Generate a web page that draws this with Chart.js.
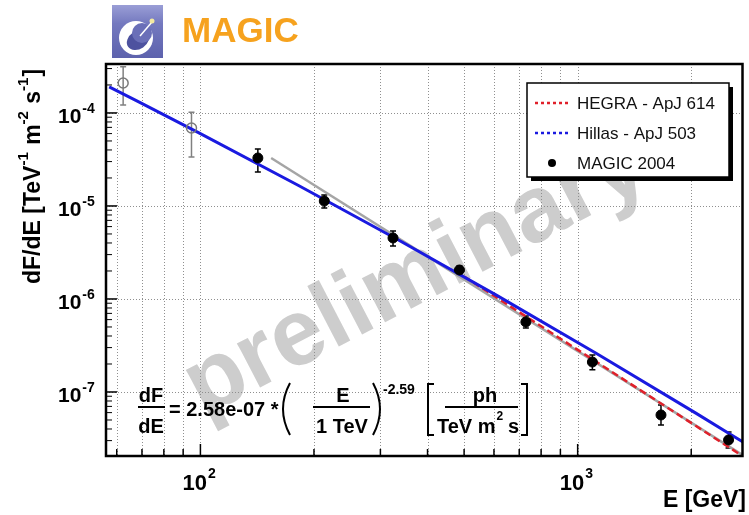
<!DOCTYPE html>
<html lang="en">
  <head>
    <title>MAGIC Crab spectrum</title>
    <meta charset="utf-8" />
    <style>
      body { margin: 0; background: #fff; }
      canvas { display: block; }
    </style>
  </head>
  <body>
    <canvas id="lienzo" width="749" height="515"></canvas>

    <script src="https://cdn.jsdelivr.net/npm/chart.js"></script>
    <script>
      // energy in GeV, flux dF/dE in TeV^-1 m^-2 s^-1
      const magicE = [142, 213, 324, 486, 729, 1094, 1663, 2512];
      const magicF = [3.28e-5, 1.13e-5, 4.53e-6, 2.05e-6, 5.66e-7, 2.1e-7, 5.66e-8, 3.05e-8];
      const magicLo = [2.32e-5, 9.5e-6, 3.72e-6, 1.86e-6, 4.88e-7, 1.73e-7, 4.42e-8, 2.5e-8];
      const magicHi = [4.1e-5, 1.31e-5, 5.38e-6, 2.26e-6, 6.56e-7, 2.5e-7, 7.24e-8, 3.72e-8];

      const lowE = [62.4, 94.7];
      const lowF = [2.1e-4, 6.9e-5];
      const lowLo = [1.22e-4, 3.36e-5];
      const lowHi = [3.13e-4, 1.02e-4];

      const fitE = [154, 2735];
      const fitF = [3.28e-5, 2.1e-8];
      const hegraE = [500, 2735];
      const hegraF = [1.74e-6, 2.05e-8];
      const hillasE = [57.3, 99.4, 182, 334, 612, 1122, 2057, 2767];
      const hillasF = [1.91e-4, 6.08e-5, 1.66e-5, 4.33e-6, 1.085e-6, 2.59e-7, 5.93e-8, 2.83e-8];

      const xRange = [56.2, 2735];
      const yRange = [2.05e-8, 3.36e-4];
      const xMajor = [100, 1000];
      const xMajorExp = ["2", "3"];
      const xMinor = [60, 70, 80, 90, 200, 300, 400, 500, 600, 700, 800, 900, 2000];
      const yMajor = [1e-4, 1e-5, 1e-6, 1e-7];
      const yMajorExp = ["-4", "-5", "-6", "-7"];
      const legendLabels = ["HEGRA - ApJ 614", "Hillas - ApJ 503", "MAGIC 2004"];

      const FONT = "'Liberation Sans', Arial, Helvetica, sans-serif";

      function pts(xs, ys) {
        return xs.map((x, i) => ({ x: x, y: ys[i] }));
      }

      function yMinorTicks() {
        const out = [];
        for (let n = -8; n <= -4; n++) {
          for (let k = 2; k <= 9; k++) {
            const v = k * Math.pow(10, n);
            if (v > yRange[0] && v < yRange[1]) out.push(v);
          }
        }
        return out;
      }

      function supText(ctx, base, exp, x, y, size, supSize, rise) {
        ctx.font = "bold " + size + "px " + FONT;
        ctx.fillText(base, x, y);
        const w = ctx.measureText(base).width;
        ctx.font = "bold " + supSize + "px " + FONT;
        ctx.fillText(exp, x + w + 1, y - rise);
        return w + 1 + ctx.measureText(exp).width;
      }

      const backPlugin = {
        id: "back",
        beforeDatasetsDraw(chart) {
          const ctx = chart.ctx;
          const a = chart.chartArea;
          const xs = chart.scales.x;
          const ys = chart.scales.y;
          ctx.save();
          // watermark
          ctx.save();
          ctx.beginPath();
          ctx.rect(a.left, a.top, a.right - a.left, a.bottom - a.top);
          ctx.clip();
          ctx.translate(428, 300);
          ctx.rotate((-27.5 * Math.PI) / 180);
          ctx.fillStyle = "#cdcdcd";
          ctx.font = "bold 94px " + FONT;
          ctx.textAlign = "center";
          ctx.fillText("preliminary", 0, 0);
          ctx.restore();

          // dotted grid
          ctx.strokeStyle = "#8f8f8f";
          ctx.lineWidth = 1;
          ctx.setLineDash([1, 2]);
          xMajor.concat(xMinor).forEach((v) => {
            const px = Math.round(xs.getPixelForValue(v)) + 0.5;
            ctx.beginPath();
            ctx.moveTo(px, a.top);
            ctx.lineTo(px, a.bottom);
            ctx.stroke();
          });
          yMajor.forEach((v) => {
            const py = Math.round(ys.getPixelForValue(v)) + 0.5;
            ctx.beginPath();
            ctx.moveTo(a.left, py);
            ctx.lineTo(a.right, py);
            ctx.stroke();
          });
          ctx.setLineDash([]);

          // error bars
          function bars(es, lo, hi, color) {
            ctx.strokeStyle = color;
            ctx.lineWidth = 1.5;
            es.forEach((e, i) => {
              const px = xs.getPixelForValue(e);
              const p1 = ys.getPixelForValue(lo[i]);
              const p2 = ys.getPixelForValue(hi[i]);
              ctx.beginPath();
              ctx.moveTo(px, p1);
              ctx.lineTo(px, p2);
              ctx.moveTo(px - 3, p1);
              ctx.lineTo(px + 3, p1);
              ctx.moveTo(px - 3, p2);
              ctx.lineTo(px + 3, p2);
              ctx.stroke();
            });
          }
          bars(lowE, lowLo, lowHi, "#808080");
          bars(magicE, magicLo, magicHi, "#000");
          ctx.restore();
        },
      };

      const frontPlugin = {
        id: "front",
        afterDatasetsDraw(chart) {
          const ctx = chart.ctx;
          const a = chart.chartArea;
          const xs = chart.scales.x;
          const ys = chart.scales.y;
          ctx.save();

          // ticks
          ctx.strokeStyle = "#000";
          ctx.lineWidth = 1.5;
          xMajor.forEach((v) => {
            const px = xs.getPixelForValue(v);
            ctx.beginPath();
            ctx.moveTo(px, a.bottom);
            ctx.lineTo(px, a.bottom - 12);
            ctx.stroke();
          });
          xMinor.forEach((v) => {
            const px = xs.getPixelForValue(v);
            ctx.beginPath();
            ctx.moveTo(px, a.bottom);
            ctx.lineTo(px, a.bottom - 7);
            ctx.stroke();
          });
          yMajor.forEach((v) => {
            const py = ys.getPixelForValue(v);
            ctx.beginPath();
            ctx.moveTo(a.left, py);
            ctx.lineTo(a.left + 11, py);
            ctx.stroke();
          });
          ctx.lineWidth = 1;
          yMinorTicks().forEach((v) => {
            const py = ys.getPixelForValue(v);
            ctx.beginPath();
            ctx.moveTo(a.left, py);
            ctx.lineTo(a.left + 6, py);
            ctx.stroke();
          });

          // frame
          ctx.lineWidth = 2.5;
          ctx.strokeRect(a.left, a.top, a.right - a.left, a.bottom - a.top);

          // tick labels
          ctx.fillStyle = "#000";
          ctx.textAlign = "left";
          ctx.textBaseline = "alphabetic";
          xMajor.forEach((v, i) => {
            const px = xs.getPixelForValue(v);
            supText(ctx, "10", xMajorExp[i], px - 18, 490, 22, 14, 12);
          });
          yMajor.forEach((v, i) => {
            const py = ys.getPixelForValue(v);
            supText(ctx, "10", yMajorExp[i], 58, py + 10, 21, 14, 10);
          });

          // axis titles
          ctx.font = "bold 23px " + FONT;
          ctx.textAlign = "right";
          ctx.fillText("E [GeV]", 746, 507);

          ctx.save();
          ctx.translate(40, 284);
          ctx.rotate(-Math.PI / 2);
          ctx.textAlign = "left";
          let cx = 0;
          const parts = [
            ["dF/dE [TeV", false],
            ["-1", true],
            [" m", false],
            ["-2", true],
            [" s", false],
            ["-1", true],
            ["]", false],
          ];
          parts.forEach((p) => {
            ctx.font = "bold " + (p[1] ? 15 : 23) + "px " + FONT;
            ctx.fillText(p[0], cx, p[1] ? -12 : 0);
            cx += ctx.measureText(p[0]).width + (p[1] ? 1 : 0);
          });
          ctx.restore();

          // legend
          const lx = 527, ly = 83, lw = 202, lh = 94;
          ctx.fillStyle = "#000";
          ctx.fillRect(lx + 4, ly + 4, lw, lh);
          ctx.fillStyle = "#fff";
          ctx.fillRect(lx, ly, lw, lh);
          ctx.lineWidth = 1.5;
          ctx.strokeStyle = "#000";
          ctx.strokeRect(lx, ly, lw, lh);
          const rowY = [103, 133, 163];
          const rowColor = ["#e0202a", "#1a1ae0"];
          ctx.lineWidth = 2.5;
          ctx.setLineDash([3, 3]);
          rowColor.forEach((c, i) => {
            ctx.strokeStyle = c;
            ctx.beginPath();
            ctx.moveTo(535, rowY[i]);
            ctx.lineTo(570, rowY[i]);
            ctx.stroke();
          });
          ctx.setLineDash([]);
          ctx.fillStyle = "#000";
          ctx.beginPath();
          ctx.arc(552, rowY[2], 4, 0, Math.PI * 2);
          ctx.fill();
          ctx.font = "17px " + FONT;
          ctx.textAlign = "left";
          ctx.textBaseline = "middle";
          ctx.fillStyle = "#111";
          legendLabels.forEach((t, i) => ctx.fillText(t, 577, rowY[i] + 1));

          // fit formula
          ctx.fillStyle = "#000";
          ctx.strokeStyle = "#000";
          ctx.textBaseline = "alphabetic";
          ctx.textAlign = "center";
          ctx.font = "bold 20px " + FONT;
          ctx.fillText("dF", 151, 402);
          ctx.fillText("dE", 151, 433);
          ctx.fillText("E", 343, 402);
          ctx.fillText("1 TeV", 342, 433);
          ctx.fillText("ph", 485, 402);
          ctx.lineWidth = 2;
          [[138, 165], [313, 370], [445, 518]].forEach((s) => {
            ctx.beginPath();
            ctx.moveTo(s[0], 407);
            ctx.lineTo(s[1], 407);
            ctx.stroke();
          });
          ctx.textAlign = "left";
          ctx.fillText("= 2.58e-07 *", 169, 416);
          ctx.font = "bold 14px " + FONT;
          ctx.fillText("-2.59", 383, 394);
          ctx.font = "bold 20px " + FONT;
          ctx.fillText("TeV m", 437, 433);
          let w = ctx.measureText("TeV m").width;
          ctx.font = "bold 12px " + FONT;
          ctx.fillText("2", 437 + w + 1, 420);
          ctx.font = "bold 20px " + FONT;
          ctx.fillText("s", 508, 433);
          // brackets
          ctx.lineWidth = 2;
          ctx.beginPath();
          ctx.moveTo(290, 383);
          ctx.quadraticCurveTo(276, 409, 290, 435);
          ctx.moveTo(373, 383);
          ctx.quadraticCurveTo(387, 409, 373, 435);
          ctx.stroke();
          ctx.beginPath();
          ctx.moveTo(434, 384);
          ctx.lineTo(428, 384);
          ctx.lineTo(428, 435);
          ctx.lineTo(434, 435);
          ctx.moveTo(521, 384);
          ctx.lineTo(527, 384);
          ctx.lineTo(527, 435);
          ctx.lineTo(521, 435);
          ctx.stroke();

          // header: logo and title
          const g = ctx.createLinearGradient(0, 5, 0, 58);
          g.addColorStop(0, "#9a9ed6");
          g.addColorStop(0.35, "#7479bf");
          g.addColorStop(1, "#5d62ad");
          ctx.fillStyle = g;
          ctx.fillRect(112, 5, 51, 53);
          ctx.fillStyle = "#fff";
          ctx.beginPath();
          ctx.arc(136, 38, 17, 0, Math.PI * 2);
          ctx.fill();
          ctx.fillStyle = "#4d529f";
          ctx.beginPath();
          ctx.ellipse(138, 40, 12, 9, -0.6, 0, Math.PI * 2);
          ctx.fill();
          ctx.fillStyle = "#6a6fb8";
          ctx.beginPath();
          ctx.arc(142, 33, 10, 0, Math.PI * 2);
          ctx.fill();
          ctx.strokeStyle = "#fff";
          ctx.lineWidth = 1.5;
          ctx.beginPath();
          ctx.moveTo(140, 36);
          ctx.lineTo(152, 22);
          ctx.stroke();
          ctx.fillStyle = "#f3e9a0";
          ctx.beginPath();
          ctx.arc(152, 21, 2.5, 0, Math.PI * 2);
          ctx.fill();

          ctx.fillStyle = "#f6a21e";
          ctx.font = "bold 35px " + FONT;
          ctx.textAlign = "left";
          ctx.fillText("MAGIC", 182, 42);

          ctx.restore();
        },
      };

      document.addEventListener("DOMContentLoaded", () => {
        const contexto = document.querySelector("#lienzo");
        new Chart(contexto, {
          type: "scatter",
          data: {
            datasets: [
              {
                label: "MAGIC 2004",
                data: pts(magicE, magicF),
                pointRadius: 5,
                pointBackgroundColor: "#000",
                pointBorderColor: "#000",
                showLine: false,
              },
              {
                label: "MAGIC low energy",
                data: pts(lowE, lowF),
                pointRadius: 5,
                pointBorderWidth: 1.5,
                pointBackgroundColor: "rgba(0,0,0,0)",
                pointBorderColor: "#7a7a7a",
                showLine: false,
              },
              {
                label: "Hillas - ApJ 503",
                data: pts(hillasE, hillasF),
                showLine: true,
                borderColor: "#1a1ae0",
                borderWidth: 3,
                pointRadius: 0,
                cubicInterpolationMode: "monotone",
              },
              {
                label: "HEGRA - ApJ 614",
                data: pts(hegraE, hegraF),
                showLine: true,
                borderColor: "#e0202a",
                borderWidth: 2.5,
                borderDash: [7, 4],
                pointRadius: 0,
              },
              {
                label: "fit",
                data: pts(fitE, fitF),
                showLine: true,
                borderColor: "#a5a5a5",
                borderWidth: 2.5,
                pointRadius: 0,
              },
            ],
          },
          options: {
            responsive: false,
            animation: false,
            devicePixelRatio: 1,
            layout: { padding: { top: 64, right: 2, left: 0, bottom: 0 } },
            plugins: { legend: { display: false }, tooltip: { enabled: false } },
            scales: {
              x: {
                type: "logarithmic",
                min: xRange[0],
                max: xRange[1],
                grid: { display: false },
                border: { display: false },
                ticks: { display: false },
                afterFit: (s) => { s.height = 59; },
              },
              y: {
                type: "logarithmic",
                min: yRange[0],
                max: yRange[1],
                grid: { display: false },
                border: { display: false },
                ticks: { display: false },
                afterFit: (s) => { s.width = 106; },
              },
            },
          },
          plugins: [backPlugin, frontPlugin],
        });
      });
    </script>
  </body>
</html>
